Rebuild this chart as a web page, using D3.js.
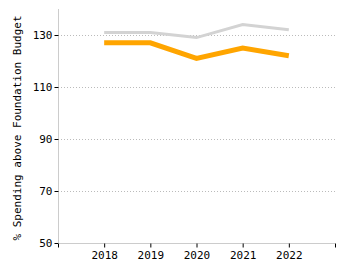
<!DOCTYPE html>
<html>
<head>
<meta charset="utf-8">
<script src="https://cdn.jsdelivr.net/npm/d3@7.9.0/dist/d3.min.js"></script>
<style>
  body { margin: 0; background: #fff; }
  svg { display: block; }
  .tick text { font-family: "DejaVu Sans Mono", monospace; font-size: 11px; fill: #000; }
</style>
</head>
<body>
<svg id="chart" width="350" height="275"></svg>
<script>
const years = [2018, 2019, 2020, 2021, 2022];
const grayValues = [131, 131, 129, 134, 132];
const orangeValues = [127, 127, 121, 125, 122];
const yTicks = [50, 70, 90, 110, 130];

const svg = d3.select('#chart');
const x = d3.scaleLinear().domain([2017, 2023]).range([58, 335]);
const y = d3.scaleLinear().domain([50, 140]).range([243, 9]);

// gridlines
svg.append('g')
    .selectAll('line')
    .data(yTicks.filter(d => d > 50))
    .enter()
    .append('line')
    .attr('x1', x(2017))
    .attr('x2', x(2023))
    .attr('y1', d => y(d) + 0.5)
    .attr('y2', d => y(d) + 0.5)
    .attr('stroke', '#bbb')
    .attr('stroke-dasharray', '1,2');

// y axis
let yAxis = svg.append('g')
    .attr('transform', `translate(${x(2017) + 0.5},0)`)
    .call(d3.axisLeft(y).tickValues(yTicks).tickSize(4).tickPadding(2));
yAxis.select('.domain').attr('stroke', '#ccc').attr('d', `M0,${y(140)}V${y(50)}`);

// x axis
let xAxis = svg.append('g')
    .attr('transform', `translate(0,${y(50) + 0.5})`)
    .call(d3.axisBottom(x).tickValues([2017].concat(years, [2023]))
        .tickFormat(d => years.includes(d) ? d : '')
        .tickSize(4).tickPadding(4));
xAxis.select('.domain').attr('stroke', '#ccc').attr('d', `M${x(2017)},0H${x(2023)}`);

// axis label
svg.append('text')
    .attr('transform', `translate(21,${(y(50) + y(140)) / 2 + 2}) rotate(-90)`)
    .attr('text-anchor', 'middle')
    .attr('font-family', '"DejaVu Sans Mono", monospace')
    .attr('font-size', 11)
    .attr('fill', '#000')
    .text('% Spending above Foundation Budget');

const line = d3.line().x(d => x(d[0])).y(d => y(d[1]));

svg.append('path')
    .datum(d3.zip(years, grayValues))
    .attr('d', line)
    .attr('fill', 'none')
    .attr('stroke', '#d3d3d3')
    .attr('stroke-width', 3);

svg.append('path')
    .datum(d3.zip(years, orangeValues))
    .attr('d', line)
    .attr('fill', 'none')
    .attr('stroke', '#ffa500')
    .attr('stroke-width', 5);
</script>
</body>
</html>
